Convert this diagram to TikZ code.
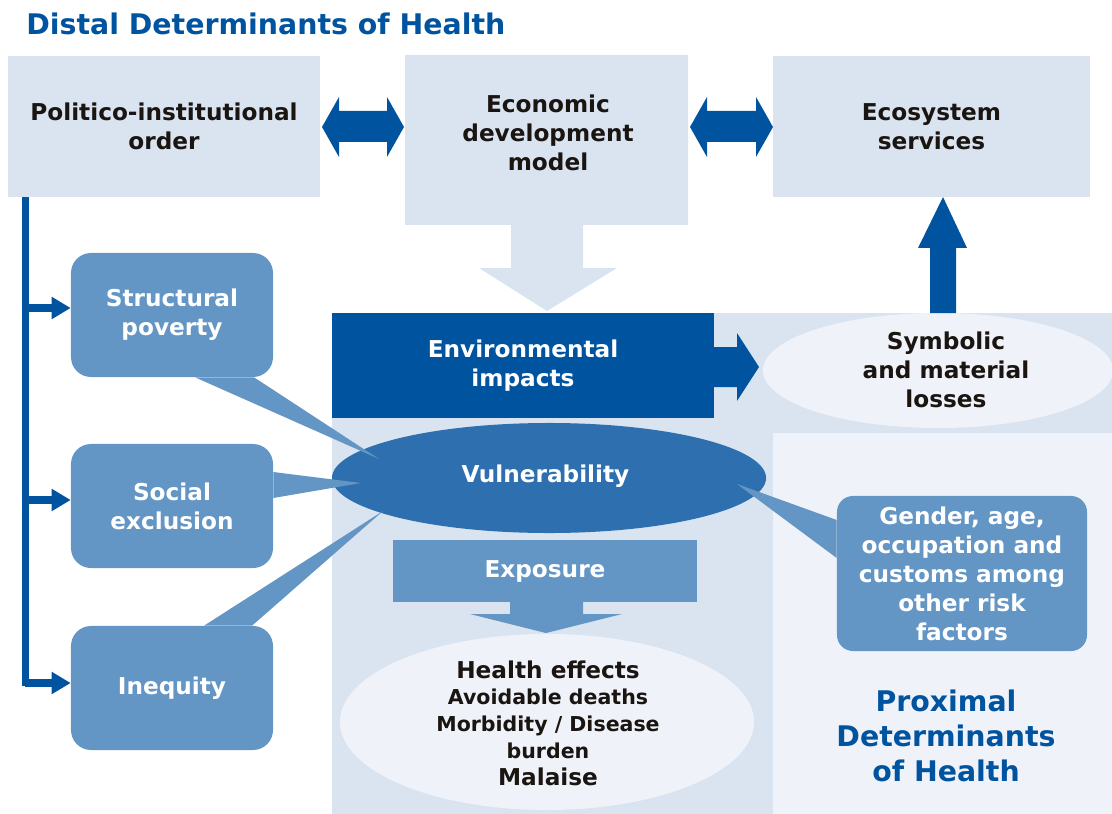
\documentclass[tikz,border=0pt]{standalone}
\usepackage{fontspec}
\setmainfont{DejaVu Sans}
\usepackage{tikz}
\usetikzlibrary{calc, positioning, shapes.geometric, arrows.meta}

\definecolor{deepblue}{RGB}{0,84,159}
\definecolor{vulblue}{RGB}{46,112,175}
\definecolor{boxblue}{RGB}{99,150,196}
\definecolor{paleblue}{RGB}{217,228,240}
\definecolor{mistblue}{RGB}{239,243,249}
\definecolor{inkblack}{RGB}{26,21,17}

\newcommand{\boxfont}{\fontsize{16.5}{20.6}\selectfont\bfseries}
\newcommand{\smallboxfont}{\fontsize{14.6}{19}\selectfont\bfseries}
\newcommand{\headfont}{\fontsize{20.2}{25}\selectfont\bfseries}

\begin{document}
\begin{tikzpicture}[x=0.025cm, y=-0.025cm,
  txt/.style={font=\boxfont, align=center, text=inkblack, inner sep=0pt},
  palebox/.style={txt, fill=paleblue},
  bluebox/.style={txt, text=white, fill=boxblue, rounded corners=0.5cm,
    minimum width=5.05cm, minimum height=3.1cm},
  blob/.style={txt, ellipse, fill=mistblue},
  trunk/.style={draw=deepblue, line width=5pt},
  branch/.style={trunk, -{Triangle[length=13.5pt, width=15pt]}},
  tail/.style={fill=boxblue},
  heading/.style={font=\headfont, text=deepblue, inner sep=0pt, align=center}]
\useasboundingbox (0,0) rectangle (1112,814);

% panels
\fill [paleblue] (332,313) rectangle (1112,814);
\fill [mistblue] (773,433) rectangle (1112,814);

% distal level
\node [palebox, minimum width=7.8cm, minimum height=3.525cm] (pol) at (164,126.5) {Politico-institutional\\order};
\fill [paleblue] (405,55) -- (688,55) -- (688,225) -- (583,225) -- (583,268) -- (617,268)
  -- (547,311) -- (479,268) -- (511,268) -- (511,225) -- (405,225) -- cycle;
\node [txt] (eco) at (548,132.5) {Economic\\development\\model};
\node [palebox, minimum width=7.925cm, minimum height=3.525cm] (ecs) at (931.5,126.5) {Ecosystem\\services};
\fill [deepblue] (322,127) -- (339,97) -- (339,111) -- (387,111) -- (387,97) -- (404,127)
  -- (387,157) -- (387,142) -- (339,142) -- (339,157) -- cycle;
\fill [deepblue] (690,127) -- (707,97) -- (707,111) -- (756,111) -- (756,97) -- (773,127)
  -- (756,157) -- (756,142) -- (707,142) -- (707,157) -- cycle;

% impacts
\node [txt, text=white, fill=deepblue, minimum width=9.55cm, minimum height=2.625cm] (env) at (523,365.5) {Environmental\\impacts};
\fill [deepblue] (714,347) -- (737,347) -- (737,333) -- (759,367) -- (737,401) -- (737,387) -- (714,387) -- cycle;
\node [blob, minimum width=8.75cm, minimum height=2.875cm] (sym) at (938,370.5) {};
\node [txt] (symtxt) at (946,369.5) {Symbolic\\and material\\losses};
\fill [deepblue] (930,313) -- (930,248) -- (918,248) -- (943,197) -- (967,248) -- (956,248) -- (956,313) -- cycle;

% proximal level
\node [txt, ellipse, fill=vulblue, minimum width=10.85cm, minimum height=2.75cm] (vul) at (549,478) {};
\node [txt, text=white] (vultxt) at (545.5,476) {Vulnerability};
\node [txt, text=white, fill=boxblue, minimum width=7.575cm, minimum height=1.55cm] (exp) at (545,571) {Exposure};
\fill [boxblue] (510,602) -- (510,614) -- (470,614) -- (546,633) -- (622,614) -- (583,614) -- (583,602) -- cycle;
\node [blob, minimum width=10.35cm, minimum height=4.4cm] (hea) at (547,722) {};
\node [txt, font=\smallboxfont] (heatxt) at (548,723)
  {{\boxfont Health effects}\\Avoidable deaths\\Morbidity / Disease\\burden\\{\boxfont Malaise}};

% social determinants
\node [bluebox] (sp) at (172,315) {Structural\\poverty};
\node [bluebox] (se) at (172,506) {Social\\exclusion};
\node [bluebox] (ineq) at (172,688) {Inequity};
\coordinate (top) at ($(pol.south west)+(17.5,0)$);
\draw [trunk] (top) -- ++(0,489);
\draw [branch] (top |- 0,308) -- (sp.west |- 0,308);
\draw [branch] (top |- 0,500) -- (se.west |- 0,500);
\draw [branch] (top |- 0,683) -- (ineq.west |- 0,683);

\coordinate (tipsp) at (379,459);
\coordinate (tipse) at (361,483);
\coordinate (tipin) at (383,511);
\coordinate (tipgen) at (737,484);
\fill [tail] ($(sp.south)+(23,0)$) -- (tipsp) -- ($(sp.south)+(82,0)$) -- cycle;
\fill [tail] ($(se.east)+(0,-34)$) -- (tipse) -- ($(se.east)+(0,-8)$) -- cycle;
\fill [tail] ($(ineq.north)+(32,0)$) -- (tipin) -- ($(ineq.north)+(80,0)$) -- cycle;

\node [txt, text=white, fill=boxblue, rounded corners=0.4cm, minimum width=6.25cm, minimum height=3.875cm] (gen) at (962,573.5)
  {Gender, age,\\occupation and\\customs among\\other risk\\factors};
\fill [tail] ($(gen.west)+(0,-53.5)$) -- (tipgen) -- ($(gen.west)+(0,-15.5)$) -- cycle;

% headings
\node [heading, anchor=west] (distal) at (26,24) {Distal Determinants of Health};
\node [heading] (proximal) at (946,736) {Proximal\\Determinants\\of Health};
\end{tikzpicture}
\end{document}
